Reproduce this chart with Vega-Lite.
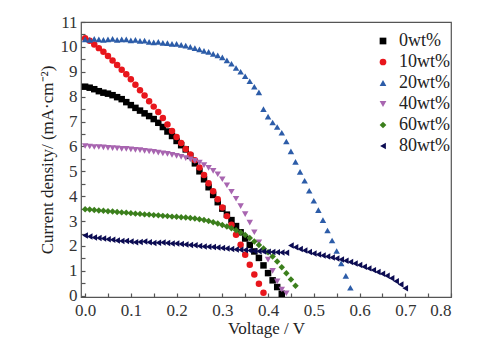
{
  "$schema": "https://vega.github.io/schema/vega-lite/v6.json",
  "width": 370,
  "height": 275,
  "autosize": {"type": "none"},
  "padding": {"left": 81, "top": 22, "right": 37, "bottom": 60},
  "background": "white",
  "config": {
    "view": {"stroke": "#555", "strokeWidth": 1.2},
    "font": "Liberation Serif"
  },
  "data": {
    "values": [
      {"s":"0wt%","v":0.00,"j":8.40},{"s":"0wt%","v":0.01,"j":8.36},{"s":"0wt%","v":0.02,"j":8.30},{"s":"0wt%","v":0.03,"j":8.22},{"s":"0wt%","v":0.04,"j":8.16},{"s":"0wt%","v":0.05,"j":8.12},{"s":"0wt%","v":0.06,"j":8.06},{"s":"0wt%","v":0.07,"j":7.98},{"s":"0wt%","v":0.08,"j":7.90},{"s":"0wt%","v":0.09,"j":7.78},{"s":"0wt%","v":0.10,"j":7.66},{"s":"0wt%","v":0.11,"j":7.55},{"s":"0wt%","v":0.12,"j":7.44},{"s":"0wt%","v":0.13,"j":7.33},{"s":"0wt%","v":0.14,"j":7.22},{"s":"0wt%","v":0.15,"j":7.10},{"s":"0wt%","v":0.16,"j":6.95},{"s":"0wt%","v":0.17,"j":6.78},{"s":"0wt%","v":0.18,"j":6.60},{"s":"0wt%","v":0.19,"j":6.42},{"s":"0wt%","v":0.20,"j":6.22},{"s":"0wt%","v":0.21,"j":6.05},{"s":"0wt%","v":0.22,"j":5.88},{"s":"0wt%","v":0.23,"j":5.62},{"s":"0wt%","v":0.24,"j":5.32},{"s":"0wt%","v":0.25,"j":5.00},{"s":"0wt%","v":0.26,"j":4.68},{"s":"0wt%","v":0.27,"j":4.36},{"s":"0wt%","v":0.28,"j":4.05},{"s":"0wt%","v":0.29,"j":3.76},{"s":"0wt%","v":0.30,"j":3.50},{"s":"0wt%","v":0.31,"j":3.26},{"s":"0wt%","v":0.32,"j":3.04},{"s":"0wt%","v":0.33,"j":2.80},{"s":"0wt%","v":0.34,"j":2.55},{"s":"0wt%","v":0.35,"j":2.30},{"s":"0wt%","v":0.36,"j":2.04},{"s":"0wt%","v":0.37,"j":1.78},{"s":"0wt%","v":0.38,"j":1.52},{"s":"0wt%","v":0.39,"j":1.22},{"s":"0wt%","v":0.40,"j":0.91},{"s":"0wt%","v":0.41,"j":0.62},{"s":"0wt%","v":0.42,"j":0.35},{"s":"0wt%","v":0.43,"j":0.08},

      {"s":"10wt%","v":0.00,"j":10.35},{"s":"10wt%","v":0.01,"j":10.25},{"s":"10wt%","v":0.02,"j":10.10},{"s":"10wt%","v":0.03,"j":9.95},{"s":"10wt%","v":0.04,"j":9.80},{"s":"10wt%","v":0.05,"j":9.63},{"s":"10wt%","v":0.06,"j":9.45},{"s":"10wt%","v":0.07,"j":9.27},{"s":"10wt%","v":0.08,"j":9.08},{"s":"10wt%","v":0.09,"j":8.90},{"s":"10wt%","v":0.10,"j":8.70},{"s":"10wt%","v":0.11,"j":8.48},{"s":"10wt%","v":0.12,"j":8.26},{"s":"10wt%","v":0.13,"j":8.05},{"s":"10wt%","v":0.14,"j":7.82},{"s":"10wt%","v":0.15,"j":7.60},{"s":"10wt%","v":0.16,"j":7.38},{"s":"10wt%","v":0.17,"j":7.14},{"s":"10wt%","v":0.18,"j":6.88},{"s":"10wt%","v":0.19,"j":6.62},{"s":"10wt%","v":0.20,"j":6.38},{"s":"10wt%","v":0.21,"j":6.14},{"s":"10wt%","v":0.22,"j":5.90},{"s":"10wt%","v":0.23,"j":5.68},{"s":"10wt%","v":0.24,"j":5.45},{"s":"10wt%","v":0.25,"j":5.15},{"s":"10wt%","v":0.26,"j":4.85},{"s":"10wt%","v":0.27,"j":4.52},{"s":"10wt%","v":0.28,"j":4.20},{"s":"10wt%","v":0.29,"j":3.88},{"s":"10wt%","v":0.30,"j":3.55},{"s":"10wt%","v":0.31,"j":3.20},{"s":"10wt%","v":0.32,"j":2.85},{"s":"10wt%","v":0.33,"j":2.45},{"s":"10wt%","v":0.34,"j":2.05},{"s":"10wt%","v":0.35,"j":1.65},{"s":"10wt%","v":0.36,"j":1.25},{"s":"10wt%","v":0.37,"j":0.85},{"s":"10wt%","v":0.38,"j":0.48},{"s":"10wt%","v":0.39,"j":0.12},

      {"s":"20wt%","v":0.00,"j":10.30},{"s":"20wt%","v":0.01,"j":10.28},{"s":"20wt%","v":0.02,"j":10.32},{"s":"20wt%","v":0.03,"j":10.30},{"s":"20wt%","v":0.04,"j":10.28},{"s":"20wt%","v":0.05,"j":10.30},{"s":"20wt%","v":0.06,"j":10.32},{"s":"20wt%","v":0.07,"j":10.28},{"s":"20wt%","v":0.08,"j":10.30},{"s":"20wt%","v":0.09,"j":10.30},{"s":"20wt%","v":0.10,"j":10.26},{"s":"20wt%","v":0.11,"j":10.28},{"s":"20wt%","v":0.12,"j":10.24},{"s":"20wt%","v":0.13,"j":10.25},{"s":"20wt%","v":0.14,"j":10.20},{"s":"20wt%","v":0.15,"j":10.18},{"s":"20wt%","v":0.16,"j":10.20},{"s":"20wt%","v":0.17,"j":10.16},{"s":"20wt%","v":0.18,"j":10.15},{"s":"20wt%","v":0.19,"j":10.12},{"s":"20wt%","v":0.20,"j":10.12},{"s":"20wt%","v":0.21,"j":10.08},{"s":"20wt%","v":0.22,"j":10.05},{"s":"20wt%","v":0.23,"j":10.00},{"s":"20wt%","v":0.24,"j":9.95},{"s":"20wt%","v":0.25,"j":9.90},{"s":"20wt%","v":0.26,"j":9.84},{"s":"20wt%","v":0.27,"j":9.80},{"s":"20wt%","v":0.28,"j":9.72},{"s":"20wt%","v":0.29,"j":9.66},{"s":"20wt%","v":0.30,"j":9.58},{"s":"20wt%","v":0.31,"j":9.46},{"s":"20wt%","v":0.32,"j":9.32},{"s":"20wt%","v":0.33,"j":9.15},{"s":"20wt%","v":0.34,"j":9.00},{"s":"20wt%","v":0.35,"j":8.82},{"s":"20wt%","v":0.36,"j":8.62},{"s":"20wt%","v":0.37,"j":8.40},{"s":"20wt%","v":0.38,"j":8.17},{"s":"20wt%","v":0.39,"j":7.50},{"s":"20wt%","v":0.40,"j":7.20},{"s":"20wt%","v":0.41,"j":6.96},{"s":"20wt%","v":0.42,"j":6.78},{"s":"20wt%","v":0.43,"j":6.55},{"s":"20wt%","v":0.44,"j":6.20},{"s":"20wt%","v":0.45,"j":5.80},{"s":"20wt%","v":0.46,"j":5.38},{"s":"20wt%","v":0.47,"j":4.98},{"s":"20wt%","v":0.48,"j":4.62},{"s":"20wt%","v":0.49,"j":4.22},{"s":"20wt%","v":0.50,"j":3.82},{"s":"20wt%","v":0.51,"j":3.44},{"s":"20wt%","v":0.52,"j":3.04},{"s":"20wt%","v":0.53,"j":2.62},{"s":"20wt%","v":0.54,"j":2.22},{"s":"20wt%","v":0.55,"j":1.80},{"s":"20wt%","v":0.56,"j":1.30},{"s":"20wt%","v":0.57,"j":0.80},{"s":"20wt%","v":0.58,"j":0.32},

      {"s":"40wt%","v":0.00,"j":6.02},{"s":"40wt%","v":0.01,"j":6.00},{"s":"40wt%","v":0.02,"j":5.98},{"s":"40wt%","v":0.03,"j":5.98},{"s":"40wt%","v":0.04,"j":5.96},{"s":"40wt%","v":0.05,"j":5.94},{"s":"40wt%","v":0.06,"j":5.93},{"s":"40wt%","v":0.07,"j":5.92},{"s":"40wt%","v":0.08,"j":5.90},{"s":"40wt%","v":0.09,"j":5.90},{"s":"40wt%","v":0.10,"j":5.88},{"s":"40wt%","v":0.11,"j":5.86},{"s":"40wt%","v":0.12,"j":5.85},{"s":"40wt%","v":0.13,"j":5.82},{"s":"40wt%","v":0.14,"j":5.80},{"s":"40wt%","v":0.15,"j":5.78},{"s":"40wt%","v":0.16,"j":5.75},{"s":"40wt%","v":0.17,"j":5.72},{"s":"40wt%","v":0.18,"j":5.70},{"s":"40wt%","v":0.19,"j":5.66},{"s":"40wt%","v":0.20,"j":5.62},{"s":"40wt%","v":0.21,"j":5.58},{"s":"40wt%","v":0.22,"j":5.53},{"s":"40wt%","v":0.23,"j":5.48},{"s":"40wt%","v":0.24,"j":5.42},{"s":"40wt%","v":0.25,"j":5.35},{"s":"40wt%","v":0.26,"j":5.25},{"s":"40wt%","v":0.27,"j":5.14},{"s":"40wt%","v":0.28,"j":5.02},{"s":"40wt%","v":0.29,"j":4.88},{"s":"40wt%","v":0.30,"j":4.68},{"s":"40wt%","v":0.31,"j":4.44},{"s":"40wt%","v":0.32,"j":4.18},{"s":"40wt%","v":0.33,"j":3.90},{"s":"40wt%","v":0.34,"j":3.60},{"s":"40wt%","v":0.35,"j":3.28},{"s":"40wt%","v":0.36,"j":2.94},{"s":"40wt%","v":0.37,"j":2.55},{"s":"40wt%","v":0.38,"j":2.15},{"s":"40wt%","v":0.39,"j":1.80},{"s":"40wt%","v":0.40,"j":1.45},{"s":"40wt%","v":0.41,"j":1.00},{"s":"40wt%","v":0.42,"j":0.58},{"s":"40wt%","v":0.43,"j":0.25},{"s":"40wt%","v":0.44,"j":0.10},

      {"s":"60wt%","v":0.00,"j":3.48},{"s":"60wt%","v":0.01,"j":3.47},{"s":"60wt%","v":0.02,"j":3.45},{"s":"60wt%","v":0.03,"j":3.43},{"s":"60wt%","v":0.04,"j":3.42},{"s":"60wt%","v":0.05,"j":3.40},{"s":"60wt%","v":0.06,"j":3.39},{"s":"60wt%","v":0.07,"j":3.37},{"s":"60wt%","v":0.08,"j":3.35},{"s":"60wt%","v":0.09,"j":3.34},{"s":"60wt%","v":0.10,"j":3.32},{"s":"60wt%","v":0.11,"j":3.30},{"s":"60wt%","v":0.12,"j":3.29},{"s":"60wt%","v":0.13,"j":3.27},{"s":"60wt%","v":0.14,"j":3.26},{"s":"60wt%","v":0.15,"j":3.24},{"s":"60wt%","v":0.16,"j":3.23},{"s":"60wt%","v":0.17,"j":3.21},{"s":"60wt%","v":0.18,"j":3.20},{"s":"60wt%","v":0.19,"j":3.18},{"s":"60wt%","v":0.20,"j":3.17},{"s":"60wt%","v":0.21,"j":3.15},{"s":"60wt%","v":0.22,"j":3.14},{"s":"60wt%","v":0.23,"j":3.12},{"s":"60wt%","v":0.24,"j":3.10},{"s":"60wt%","v":0.25,"j":3.07},{"s":"60wt%","v":0.26,"j":3.04},{"s":"60wt%","v":0.27,"j":3.00},{"s":"60wt%","v":0.28,"j":2.95},{"s":"60wt%","v":0.29,"j":2.90},{"s":"60wt%","v":0.30,"j":2.84},{"s":"60wt%","v":0.31,"j":2.78},{"s":"60wt%","v":0.32,"j":2.71},{"s":"60wt%","v":0.33,"j":2.63},{"s":"60wt%","v":0.34,"j":2.54},{"s":"60wt%","v":0.35,"j":2.44},{"s":"60wt%","v":0.36,"j":2.32},{"s":"60wt%","v":0.37,"j":2.18},{"s":"60wt%","v":0.38,"j":2.04},{"s":"60wt%","v":0.39,"j":1.90},{"s":"60wt%","v":0.40,"j":1.75},{"s":"60wt%","v":0.41,"j":1.58},{"s":"60wt%","v":0.42,"j":1.38},{"s":"60wt%","v":0.43,"j":1.15},{"s":"60wt%","v":0.44,"j":0.90},{"s":"60wt%","v":0.45,"j":0.65},{"s":"60wt%","v":0.46,"j":0.40},

      {"s":"80wt%","v":0.00,"j":2.42},{"s":"80wt%","v":0.01,"j":2.38},{"s":"80wt%","v":0.02,"j":2.34},{"s":"80wt%","v":0.03,"j":2.32},{"s":"80wt%","v":0.04,"j":2.30},{"s":"80wt%","v":0.05,"j":2.27},{"s":"80wt%","v":0.06,"j":2.25},{"s":"80wt%","v":0.07,"j":2.22},{"s":"80wt%","v":0.08,"j":2.20},{"s":"80wt%","v":0.09,"j":2.20},{"s":"80wt%","v":0.10,"j":2.18},{"s":"80wt%","v":0.11,"j":2.15},{"s":"80wt%","v":0.12,"j":2.16},{"s":"80wt%","v":0.13,"j":2.18},{"s":"80wt%","v":0.14,"j":2.15},{"s":"80wt%","v":0.15,"j":2.12},{"s":"80wt%","v":0.16,"j":2.13},{"s":"80wt%","v":0.17,"j":2.14},{"s":"80wt%","v":0.18,"j":2.12},{"s":"80wt%","v":0.19,"j":2.10},{"s":"80wt%","v":0.20,"j":2.10},{"s":"80wt%","v":0.21,"j":2.08},{"s":"80wt%","v":0.22,"j":2.06},{"s":"80wt%","v":0.23,"j":2.04},{"s":"80wt%","v":0.24,"j":2.03},{"s":"80wt%","v":0.25,"j":2.00},{"s":"80wt%","v":0.26,"j":1.98},{"s":"80wt%","v":0.27,"j":1.97},{"s":"80wt%","v":0.28,"j":1.96},{"s":"80wt%","v":0.29,"j":1.94},{"s":"80wt%","v":0.30,"j":1.92},{"s":"80wt%","v":0.31,"j":1.90},{"s":"80wt%","v":0.32,"j":1.88},{"s":"80wt%","v":0.33,"j":1.86},{"s":"80wt%","v":0.34,"j":1.85},{"s":"80wt%","v":0.35,"j":1.84},{"s":"80wt%","v":0.36,"j":1.82},{"s":"80wt%","v":0.37,"j":1.80},{"s":"80wt%","v":0.38,"j":1.79},{"s":"80wt%","v":0.39,"j":1.78},{"s":"80wt%","v":0.40,"j":1.77},{"s":"80wt%","v":0.41,"j":1.76},{"s":"80wt%","v":0.42,"j":1.75},{"s":"80wt%","v":0.43,"j":1.74},{"s":"80wt%","v":0.44,"j":1.73},{"s":"80wt%","v":0.45,"j":2.02},{"s":"80wt%","v":0.46,"j":1.95},{"s":"80wt%","v":0.47,"j":1.88},{"s":"80wt%","v":0.48,"j":1.82},{"s":"80wt%","v":0.49,"j":1.76},{"s":"80wt%","v":0.50,"j":1.70},{"s":"80wt%","v":0.51,"j":1.66},{"s":"80wt%","v":0.52,"j":1.62},{"s":"80wt%","v":0.53,"j":1.58},{"s":"80wt%","v":0.54,"j":1.54},{"s":"80wt%","v":0.55,"j":1.50},{"s":"80wt%","v":0.56,"j":1.46},{"s":"80wt%","v":0.57,"j":1.41},{"s":"80wt%","v":0.58,"j":1.36},{"s":"80wt%","v":0.59,"j":1.30},{"s":"80wt%","v":0.60,"j":1.24},{"s":"80wt%","v":0.61,"j":1.17},{"s":"80wt%","v":0.62,"j":1.10},{"s":"80wt%","v":0.63,"j":1.03},{"s":"80wt%","v":0.64,"j":0.95},{"s":"80wt%","v":0.65,"j":0.88},{"s":"80wt%","v":0.66,"j":0.80},{"s":"80wt%","v":0.67,"j":0.70},{"s":"80wt%","v":0.68,"j":0.58},{"s":"80wt%","v":0.69,"j":0.45},{"s":"80wt%","v":0.70,"j":0.30}
    ]
  },
  "mark": {"type": "point", "filled": true, "opacity": 1, "size": 42},
  "encoding": {
    "x": {
      "field": "v", "type": "quantitative",
      "scale": {"domain": [-0.009, 0.8], "nice": false, "zero": false},
      "axis": {
        "title": "Voltage / V",
        "values": [0,0.05,0.1,0.15,0.2,0.25,0.3,0.35,0.4,0.45,0.5,0.55,0.6,0.65,0.7,0.75,0.8],
        "labelExpr": "abs(round(datum.value*100) % 10) < 0.5 ? format(datum.value, '.1f') : ''",
        "grid": false, "domain": false,
        "tickSize": -4, "tickColor": "#555", "tickWidth": 1.2,
        "labelFont": "Liberation Serif", "labelFontSize": 17, "labelColor": "#333", "labelPadding": 9,
        "titleFont": "Liberation Serif", "titleFontSize": 17, "titleFontWeight": "normal", "titleColor": "#222", "titlePadding": 2
      }
    },
    "y": {
      "field": "j", "type": "quantitative",
      "scale": {"domain": [-0.05, 11], "nice": false, "zero": false},
      "axis": {
        "title": "Current density/ (mA·cm⁻²)",
        "values": [0,0.5,1,1.5,2,2.5,3,3.5,4,4.5,5,5.5,6,6.5,7,7.5,8,8.5,9,9.5,10,10.5,11],
        "labelExpr": "datum.value % 1 == 0 ? format(datum.value, 'd') : ''",
        "grid": false, "domain": false,
        "tickSize": -4, "tickColor": "#555", "tickWidth": 1.2,
        "labelFont": "Liberation Serif", "labelFontSize": 17, "labelColor": "#333", "labelPadding": 8,
        "titleFont": "Liberation Serif", "titleFontSize": 17, "titleFontWeight": "normal", "titleColor": "#222", "titlePadding": 4
      }
    },
    "color": {
      "field": "s", "type": "nominal",
      "scale": {
        "domain": ["0wt%","10wt%","20wt%","40wt%","60wt%","80wt%"],
        "range": ["#000000","#e8161c","#2c5ca8","#a865b0","#3b7f1c","#0b0b52"]
      },
      "legend": {
        "orient": "none", "legendX": 293, "legendY": 10, "title": null,
        "labelFont": "Liberation Serif", "labelFontSize": 18, "labelColor": "#222",
        "rowPadding": 3, "symbolSize": 45, "labelOffset": 7, "symbolStrokeWidth": 0
      }
    },
    "shape": {
      "field": "s", "type": "nominal",
      "scale": {
        "domain": ["0wt%","10wt%","20wt%","40wt%","60wt%","80wt%"],
        "range": ["square","circle","triangle-up","triangle-down","diamond","triangle-left"]
      }
    }
  }
}
